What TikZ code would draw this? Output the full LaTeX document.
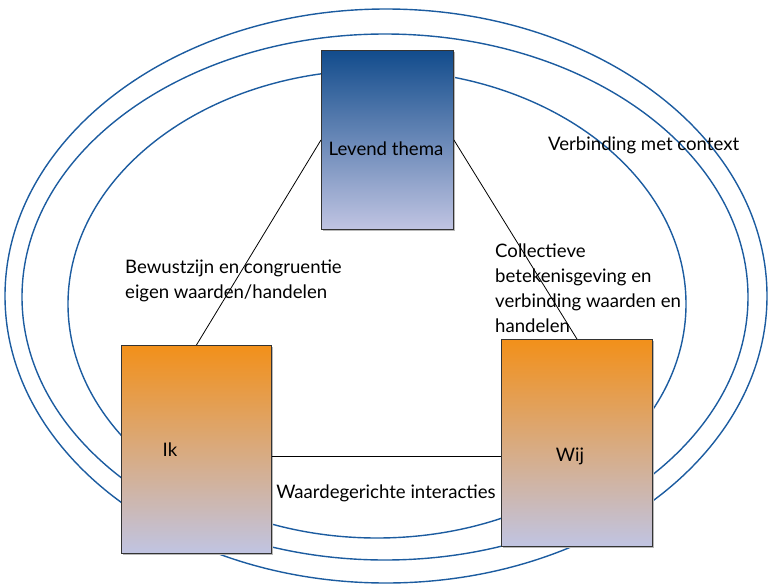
\documentclass[tikz,border=0pt]{standalone}
\usepackage{fontspec}
\setmainfont{Lato}
\usetikzlibrary{calc}
\definecolor{ringblue}{RGB}{28,92,160}
\definecolor{darkblue}{RGB}{18,76,140}
\definecolor{lavender}{RGB}{192,196,226}
\definecolor{orangetop}{RGB}{242,144,26}
\tikzset{
  ring/.style={draw=ringblue, line width=1.4pt},
  link/.style={draw=black, line width=0.8pt},
  box/.style={draw=black!80, line width=0.9pt, rectangle, inner sep=0pt, anchor=north west},
  bluebox/.style={box, top color=darkblue, bottom color=lavender},
  orangebox/.style={box, top color=orangetop, bottom color=lavender},
  label/.style={font=\fontsize{18.6}{25}\selectfont, inner sep=0pt, text=black},
}
\begin{document}
\begin{tikzpicture}[x=1pt,y=-1pt]
\useasboundingbox (0,0) rectangle (769,584);
% three context rings
\draw[ring] (386,296) ellipse [x radius=381, y radius=287];
\draw[ring] (385,297) ellipse [x radius=363, y radius=263];
\draw[ring] (377,304) ellipse [x radius=309, y radius=234];
% soft shadows behind the boxes
\fill[black!28] (322.5,51.5) rectangle (454.5,230.5);
\fill[black!28] (122.5,346.5) rectangle (272.5,554.5);
\fill[black!28] (502.5,340.5) rectangle (653.5,547.5);
% the three boxes
\node[bluebox, minimum width=132pt, minimum height=179pt] (lt) at (321,50) {};
\node[orangebox, minimum width=150pt, minimum height=208pt] (ik) at (121,345) {};
\node[orangebox, minimum width=151pt, minimum height=207pt] (wij) at (501,339) {};
% connectors between the boxes
\coordinate (ikr) at ($(ik.north east)!0.535!(ik.south east)$);
\coordinate (wijl) at (ikr -| wij.west);
\draw[link] (lt.west) -- (ik.north);
\draw[link] (lt.east) -- (wij.north);
\draw[link] (ikr) -- (wijl);
% box outlines on top of connector ends
\draw[black!80, line width=0.9pt] (lt.north west) rectangle (lt.south east);
\draw[black!80, line width=0.9pt] (ik.north west) rectangle (ik.south east);
\draw[black!80, line width=0.9pt] (wij.north west) rectangle (wij.south east);
% texts
\node[label] (tlt) at (386,149) {Levend thema};
\node[label] (tik) at (170,450) {Ik};
\node[label] (twij) at (570,456) {Wij};
\node[label, anchor=west] (tctx) at (548,145) {Verbinding met context};
\node[label] (tint) at (386,493) {Waardegerichte interacties};
\node[label, anchor=north west, align=left] (tbew) at (125,260) {Bewustzijn en congruentie\\eigen waarden/handelen};
\node[label, anchor=north west, align=left] (tcol) at (495,244) {Collectieve\\betekenisgeving en\\verbinding waarden en\\handelen};
\end{tikzpicture}
\end{document}
